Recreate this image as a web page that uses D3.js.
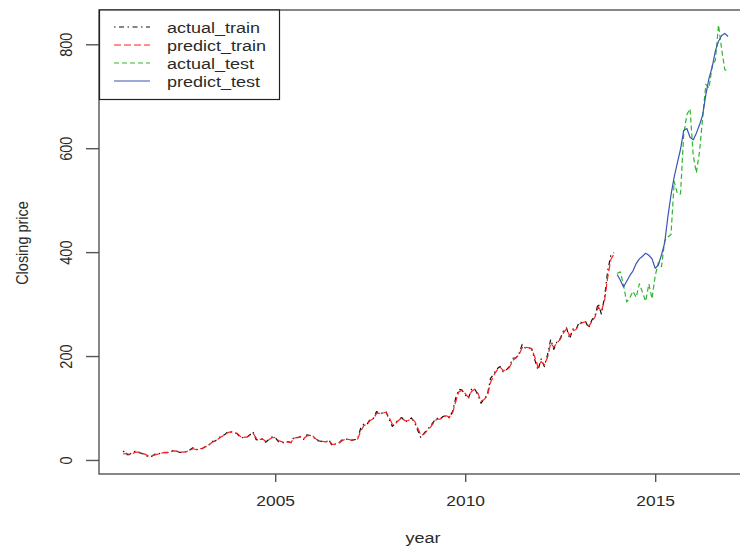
<!DOCTYPE html>
<html>
<head>
<meta charset="utf-8">
<script src="https://cdn.jsdelivr.net/npm/d3@7"></script>
<style>
  html, body { margin: 0; padding: 0; background: #fff; overflow: hidden; }
  svg { display: block; }
  text { font-family: "Liberation Sans", Arial, Helvetica, sans-serif; fill: #2a2a2a; }
</style>
</head>
<body>
<svg id="chart" width="740" height="548"></svg>
<script>
// Monthly closing prices, training window Jan 2001 - Dec 2013
const trainStart = 2001;
const testStart = 2014;
const monthsPerYear = 12;

const actualTrain = [
  17.25, 10.19, 10.23, 15.78, 16.69, 14.15, 12.49, 8.94, 5.97, 6.98, 11.21, 10.82,
  14.19, 14.10, 14.30, 16.69, 18.23, 16.25, 14.45, 14.94, 15.93, 19.36, 23.35, 18.89,
  21.85, 22.01, 26.03, 28.69, 35.89, 36.32, 41.64, 46.32, 48.43, 54.43, 53.97, 52.62,
  50.40, 43.01, 43.28, 43.60, 48.50, 54.40, 38.92, 38.14, 40.86, 34.13, 39.68, 44.29,
  43.22, 35.18, 34.27, 32.36, 35.51, 33.09, 45.15, 42.70, 45.30, 39.86, 48.46, 47.15,
  44.82, 37.44, 36.53, 35.21, 34.61, 38.68, 26.89, 30.83, 32.12, 38.09, 40.34, 39.46,
  37.67, 39.14, 39.79, 61.33, 69.14, 68.41, 78.54, 79.91, 93.15, 89.15, 90.56, 92.64,
  77.70, 64.47, 71.30, 78.63, 81.62, 73.33, 76.34, 80.81, 72.76, 57.24, 42.70, 51.28,
  58.82, 64.79, 73.44, 80.52, 77.99, 83.66, 85.76, 81.19, 93.36, 118.81, 135.91, 134.52,
  125.41, 118.40, 135.77, 137.10, 125.46, 109.26, 117.89, 124.83, 157.06, 165.23, 175.40, 180.00,
  169.64, 173.29, 180.13, 195.81, 196.69, 204.49, 222.52, 215.23, 216.23, 213.51, 192.29, 173.10,
  194.44, 179.69, 202.51, 231.90, 212.91, 228.35, 233.30, 248.27, 254.32, 232.89, 252.05, 250.87,
  265.50, 264.27, 266.49, 253.81, 269.20, 277.69, 301.22, 280.98, 312.64, 364.03, 393.62, 398.79
];

// Fitted values over the training window
const predictTrain = [
  11.5, 12.8, 10.6, 12.4, 15.2, 15.0, 12.9, 10.8, 7.6, 7.9, 9.8, 11.4,
  12.9, 14.6, 14.5, 15.8, 17.4, 16.9, 15.1, 15.2, 16.0, 18.4, 21.6, 20.2,
  21.1, 22.6, 25.2, 28.4, 33.6, 36.5, 40.2, 44.8, 47.9, 52.6, 54.1, 53.0,
  51.2, 45.4, 43.9, 43.8, 47.1, 51.6, 42.3, 39.6, 40.3, 36.2, 38.7, 42.8,
  43.4, 37.6, 35.2, 33.4, 34.9, 34.0, 42.1, 43.2, 44.6, 41.3, 46.2, 47.4,
  45.5, 39.6, 37.2, 35.8, 35.0, 37.4, 29.8, 30.6, 31.9, 36.5, 39.6, 39.8,
  38.3, 39.0, 39.7, 55.4, 66.2, 68.6, 76.1, 79.4, 89.5, 89.9, 90.3, 91.8,
  81.6, 68.9, 70.2, 76.5, 80.7, 75.5, 76.0, 79.6, 74.8, 61.9, 47.3, 49.6,
  56.4, 62.9, 71.2, 78.4, 78.6, 82.1, 85.0, 82.5, 90.4, 112.0, 131.2, 134.0,
  127.9, 120.6, 131.8, 136.2, 128.6, 113.4, 116.5, 123.0, 149.3, 162.6, 172.4, 178.6,
  172.4, 172.8, 178.3, 191.5, 196.2, 202.3, 216.4, 216.8, 216.0, 214.2, 197.8, 178.5,
  189.3, 183.4, 197.2, 224.6, 217.2, 225.3, 232.1, 244.4, 252.5, 238.7, 248.6, 251.2,
  261.3, 264.2, 266.0, 257.2, 266.3, 275.4, 294.6, 286.2, 305.9, 351.4, 385.7, 396.8
];

// Test window Jan 2014 - Dec 2016
const actualTest = [
  358.69, 362.10, 336.37, 304.13, 312.55, 324.78, 312.99, 339.04, 322.44, 305.46, 338.64, 310.35,
  354.53, 380.16, 372.10, 421.78, 429.23, 434.09, 536.15, 512.89, 511.89, 625.90, 664.80, 675.89,
  587.00, 552.52, 593.64, 659.59, 722.79, 715.62, 758.81, 769.16, 837.31, 789.82, 750.57, 749.87
];

const predictTest = [
  357, 346, 333, 344, 355, 364, 378, 387, 392, 398, 394, 387,
  369, 375, 395, 418, 468, 510, 545, 572, 598, 634, 638, 621,
  616, 629, 645, 664, 703, 735, 756, 787, 806, 817, 821, 815
];

const xTicks = [2005, 2010, 2015];
const yTicks = [0, 200, 400, 600, 800];

const legendItems = ["actual_train", "predict_train", "actual_test", "predict_test"];

// Series styles
const styles = {
  actual_train:  { color: "#111111", dash: "1.5,3.5,5,3.5" },
  predict_train: { color: "#ff2020", dash: "7,3" },
  actual_test:   { color: "#2fb52f", dash: "5,3" },
  predict_test:  { color: "#3a55b4", dash: null }
};

const svg = d3.select("#chart");
const stretch = 1.2; // horizontal text stretch

// Plot region with R-style 4% padding on both axes
const x = d3.scaleLinear().domain([2000.363, 2017.553]).range([99, 752.2]);
const y = d3.scaleLinear().domain([-27, 866]).range([474, 10]);

const tOf = (start) => (d, i) => start + i / monthsPerYear;

const line = (start) => d3.line()
  .x((d, i) => x(tOf(start)(d, i)))
  .y(d => y(d));

const series = [
  { key: "actual_train", values: actualTrain, start: trainStart },
  { key: "predict_train", values: predictTrain, start: trainStart },
  { key: "actual_test", values: actualTest, start: testStart },
  { key: "predict_test", values: predictTest, start: testStart }
];

series.forEach(s => {
  svg.append("path")
    .datum(s.values)
    .attr("d", line(s.start))
    .attr("fill", "none")
    .attr("stroke", styles[s.key].color)
    .attr("stroke-width", 1.2)
    .attr("stroke-dasharray", styles[s.key].dash)
    .attr("stroke-linejoin", "round");
});

// Plot box
svg.append("rect")
  .attr("x", x.range()[0]).attr("y", y.range()[1])
  .attr("width", x.range()[1] - x.range()[0])
  .attr("height", y.range()[0] - y.range()[1])
  .attr("fill", "none").attr("stroke", "#555").attr("stroke-width", 1.4);

// X axis
const gx = svg.append("g").attr("transform", `translate(0,${y.range()[0]})`)
  .call(d3.axisBottom(x).tickValues(xTicks).tickSize(8).tickSizeOuter(0).tickFormat(d3.format("d")));
gx.select(".domain").remove();
gx.selectAll(".tick line").attr("stroke", "#555").attr("stroke-width", 1.4);
gx.selectAll(".tick text")
  .attr("y", null).attr("dy", null)
  .attr("font-size", 14.5)
  .attr("text-anchor", "middle")
  .attr("fill", "#2a2a2a")
  .attr("transform", `translate(0,32) scale(${stretch},1)`);

// Y axis
const gy = svg.append("g").attr("transform", `translate(${x.range()[0]},0)`)
  .call(d3.axisLeft(y).tickValues(yTicks).tickSize(13).tickSizeOuter(0));
gy.select(".domain").remove();
gy.selectAll(".tick line").attr("stroke", "#555").attr("stroke-width", 1.4);
gy.selectAll(".tick text")
  .attr("x", null).attr("dy", null)
  .attr("font-size", 14.5)
  .attr("text-anchor", "middle")
  .attr("fill", "#2a2a2a")
  .attr("transform", `translate(-27.5,0) scale(${stretch},1) rotate(-90)`);

// Axis titles
svg.append("text")
  .attr("transform", `translate(423,543) scale(${stretch},1)`)
  .attr("text-anchor", "middle").attr("font-size", 15)
  .text("year");
svg.append("text")
  .attr("transform", `translate(28,243) scale(${stretch},1) rotate(-90)`)
  .attr("text-anchor", "middle").attr("font-size", 14.5)
  .text("Closing price");

// Legend
const lg = svg.append("g");
lg.append("rect")
  .attr("x", 99.5).attr("y", 10).attr("width", 180).attr("height", 89.5)
  .attr("fill", "#fff").attr("stroke", "#222").attr("stroke-width", 1.2);
legendItems.forEach((k, i) => {
  const ly = 27 + i * 18;
  lg.append("line")
    .attr("x1", 114).attr("x2", 150).attr("y1", ly).attr("y2", ly)
    .attr("stroke", styles[k].color).attr("stroke-width", 1.2)
    .attr("stroke-dasharray", styles[k].dash);
  lg.append("text")
    .attr("transform", `translate(167,${ly + 5.5}) scale(${stretch},1)`)
    .attr("font-size", 15)
    .text(k);
});
</script>
</body>
</html>
